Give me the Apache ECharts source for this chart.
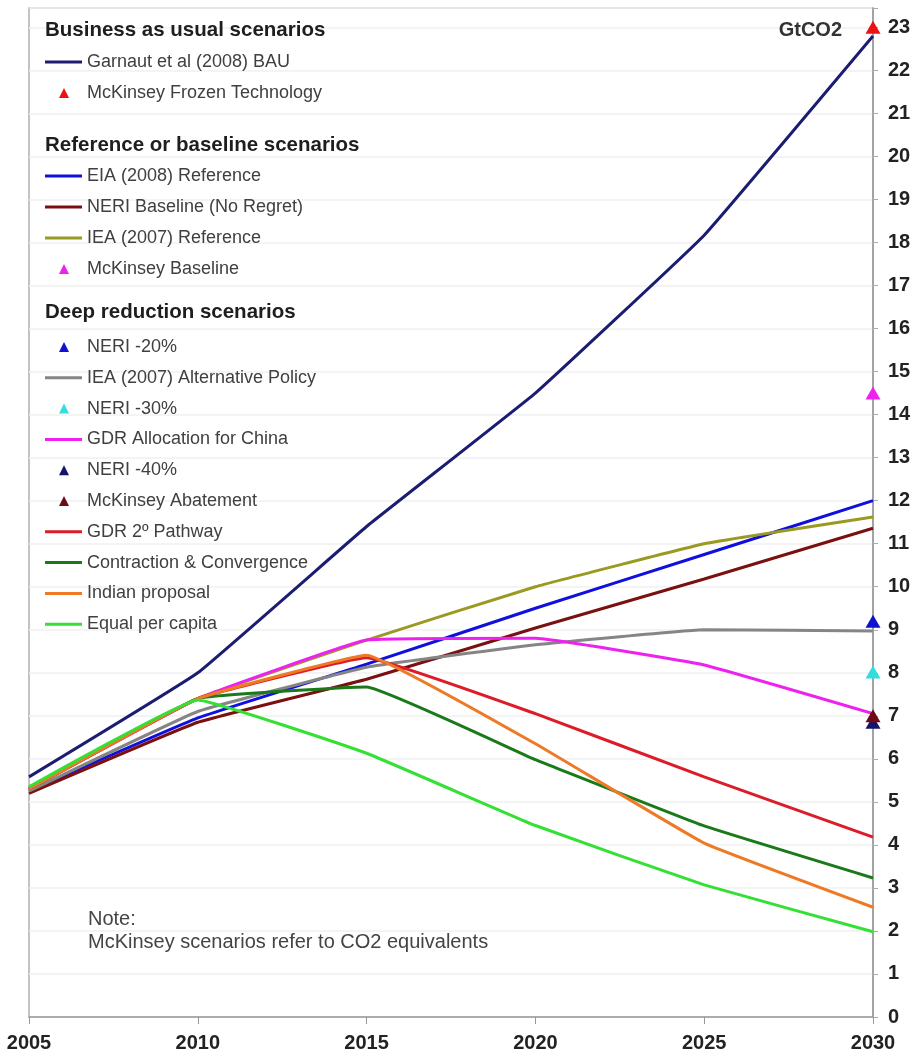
<!DOCTYPE html>
<html>
<head>
<meta charset="utf-8">
<title>China CO2 emission scenarios</title>
<script src="https://cdn.jsdelivr.net/npm/echarts@6/dist/echarts.min.js"></script>
<style>
    html, body { margin: 0; padding: 0; background: #fff; }
    #chart { width: 918px; height: 1060px; }
</style>
</head>
<body>
<div id="chart"></div>
<script>
// years on the x axis
var years = [2005, 2010, 2015, 2020, 2025, 2030];
var yTicks = { min: 0, max: 23, step: 1 };

// line scenarios (GtCO2)
var garnautBAU      = [5.58, 8.0, 11.4, 14.5, 18.17, 22.8];
var eiaReference    = [5.25, 6.95, 8.2, 9.5, 10.75, 12.0];
var neriBaseline    = [5.2, 6.85, 7.85, 9.04, 10.18, 11.36];
var ieaReference    = [5.3, 7.4, 8.76, 10.0, 11.0, 11.62];
var ieaAltPolicy    = [5.25, 7.1, 8.13, 8.65, 9.0, 8.97];
var gdrAllocation   = [5.3, 7.4, 8.76, 8.8, 8.18, 7.05];
var gdr2Pathway     = [5.3, 7.4, 8.35, 7.05, 5.58, 4.18];
var contraction     = [5.3, 7.4, 7.67, 5.98, 4.44, 3.23];
var indianProposal  = [5.3, 7.4, 8.41, 6.35, 4.04, 2.55];
var equalPerCapita  = [5.35, 7.37, 6.13, 4.45, 3.07, 1.98];

// single 2030 markers
var mckFrozen    = 23.0;
var mckBaseline  = 14.5;
var neri20       = 9.2;
var neri30       = 8.02;
var neri40       = 6.85;
var mckAbatement = 7.0;

var FONT = '"Liberation Sans", Arial, sans-serif';
var LINE_ICON = 'path://M0,0M37,14M0,5.5L37,5.5L37,8.5L0,8.5Z';
var TRI_ICON = 'path://M0,0M37,14M14,12L19,2L24,12Z';

function pairs(values) {
    var out = [];
    for (var i = 0; i < years.length; i++) {
        out.push([years[i], values[i]]);
    }
    return out;
}
function lineSeries(name, values, color) {
    return {
        name: name,
        type: 'line',
        data: pairs(values),
        symbol: 'none',
        smooth: 0.08,
        lineStyle: { color: color, width: 3 },
        itemStyle: { color: color, opacity: 1 },
        z: 2
    };
}
function markerSeries(name, value, color) {
    return {
        name: name,
        type: 'scatter',
        data: [[years[years.length - 1], value]],
        symbol: 'triangle',
        symbolSize: [15, 13],
        itemStyle: { color: color, opacity: 1 },
        z: 4
    };
}
function legendBlock(top, gap, items) {
    var data = [];
    for (var i = 0; i < items.length; i++) {
        data.push({ name: items[i][0], icon: items[i][1] ? TRI_ICON : LINE_ICON });
    }
    return {
        orient: 'vertical',
        left: 45,
        top: top,
        padding: 0,
        itemGap: gap,
        itemWidth: 37,
        itemHeight: 14,
        selectedMode: false,
        itemStyle: { opacity: 1 },
        textStyle: { fontFamily: FONT, fontSize: 18, lineHeight: 18, color: '#404040' },
        data: data
    };
}
function heading(text, top) {
    return {
        text: text,
        left: 45,
        top: top,
        padding: 0,
        textStyle: { fontFamily: FONT, fontSize: 20.5, fontWeight: 'bold', color: '#1e1e1e', lineHeight: 20 }
    };
}

var chart = echarts.init(document.getElementById('chart'));
var option = {
    animation: false,
    backgroundColor: '#fff',
    title: [
        heading('Business as usual scenarios', 20),
        heading('Reference or baseline scenarios', 135),
        heading('Deep reduction scenarios', 302),
        {
            text: 'GtCO2',
            right: 76,
            top: 20,
            padding: 0,
            textStyle: { fontFamily: FONT, fontSize: 20, fontWeight: 'bold', color: '#333', lineHeight: 20 }
        },
        {
            text: 'Note:\nMcKinsey scenarios refer to CO2 equivalents',
            left: 88,
            top: 908,
            padding: 0,
            textStyle: { fontFamily: FONT, fontSize: 20, fontWeight: 'normal', color: '#444', lineHeight: 23 }
        }
    ],
    legend: [
        legendBlock(53, 13, [
            ['Garnaut et al (2008) BAU', false],
            ['McKinsey Frozen Technology', true]
        ]),
        legendBlock(167, 13, [
            ['EIA (2008) Reference', false],
            ['NERI Baseline (No Regret)', false],
            ['IEA (2007) Reference', false],
            ['McKinsey Baseline', true]
        ]),
        legendBlock(338, 12.8, [
            ['NERI -20%', true],
            ['IEA (2007) Alternative Policy', false],
            ['NERI -30%', true],
            ['GDR Allocation for China', false],
            ['NERI -40%', true],
            ['McKinsey Abatement', true],
            ['GDR 2\u00ba Pathway', false],
            ['Contraction & Convergence', false],
            ['Indian proposal', false],
            ['Equal per capita', false]
        ])
    ],
    grid: {
        left: 29,
        right: 45,
        top: 8,
        bottom: 43,
        show: true,
        borderColor: '#b0b0b0',
        borderWidth: 1.5
    },
    xAxis: {
        type: 'value',
        min: 2005,
        max: 2030,
        interval: 5,
        axisLine: { show: true, lineStyle: { color: '#999', width: 1.5 } },
        axisTick: { show: true, length: 7, lineStyle: { color: '#999' } },
        splitLine: { show: false },
        axisLabel: {
            margin: 16,
            fontFamily: FONT,
            fontSize: 20,
            fontWeight: 'bold',
            color: '#222',
            formatter: function (v) { return String(v); }
        }
    },
    yAxis: {
        type: 'value',
        position: 'right',
        min: yTicks.min,
        max: 23.45,
        interval: yTicks.step,
        axisLine: { show: true, lineStyle: { color: '#999', width: 1.5 } },
        axisTick: { show: true, length: 5, lineStyle: { color: '#aaa' } },
        splitLine: { show: true, lineStyle: { color: '#f0f0f0', width: 1.5 } },
        axisLabel: {
            margin: 15,
            fontFamily: FONT,
            fontSize: 20,
            fontWeight: 'bold',
            color: '#222',
            formatter: function (v) {
                return (v % 1 === 0 && v <= yTicks.max) ? String(v) : '';
            }
        }
    },
    series: [
        lineSeries('Garnaut et al (2008) BAU', garnautBAU, '#1c1c72'),
        markerSeries('McKinsey Frozen Technology', mckFrozen, '#ee1111'),
        lineSeries('EIA (2008) Reference', eiaReference, '#1010dd'),
        lineSeries('NERI Baseline (No Regret)', neriBaseline, '#7a1010'),
        lineSeries('IEA (2007) Reference', ieaReference, '#9a9a22'),
        markerSeries('McKinsey Baseline', mckBaseline, '#ee22ee'),
        markerSeries('NERI -20%', neri20, '#1010d0'),
        lineSeries('IEA (2007) Alternative Policy', ieaAltPolicy, '#858585'),
        markerSeries('NERI -30%', neri30, '#33dddd'),
        lineSeries('GDR Allocation for China', gdrAllocation, '#ee22ee'),
        markerSeries('NERI -40%', neri40, '#14146a'),
        markerSeries('McKinsey Abatement', mckAbatement, '#6e0a14'),
        lineSeries('GDR 2\u00ba Pathway', gdr2Pathway, '#dd1c2a'),
        lineSeries('Contraction & Convergence', contraction, '#1a7a1a'),
        lineSeries('Indian proposal', indianProposal, '#ee7a25'),
        lineSeries('Equal per capita', equalPerCapita, '#33e033')
    ]
};
chart.setOption(option);
</script>
</body>
</html>
